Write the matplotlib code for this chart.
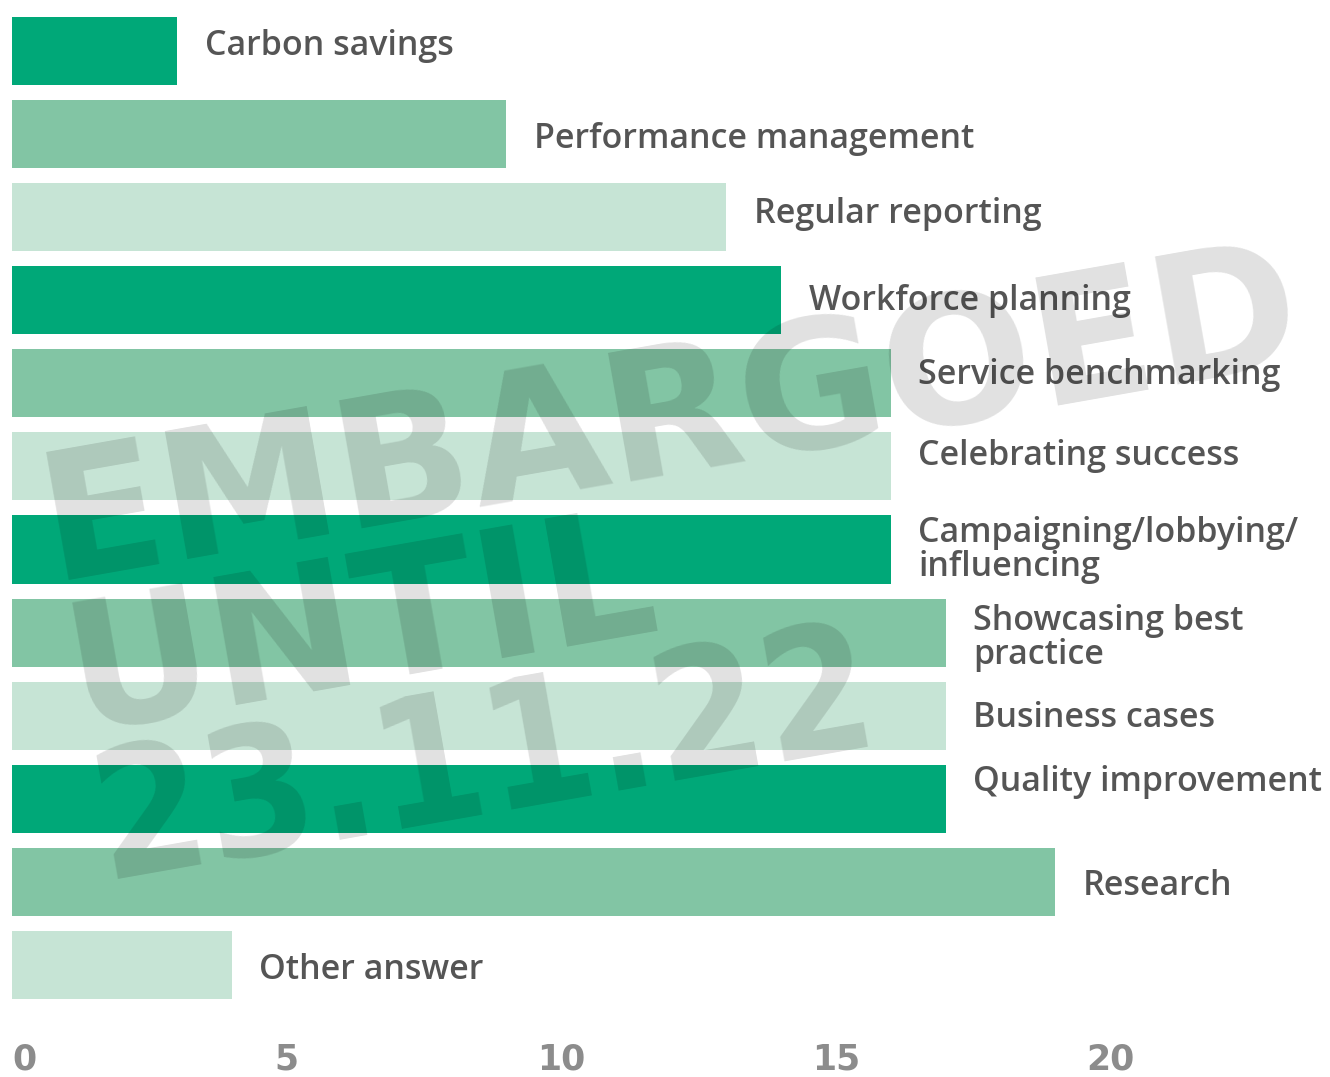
import matplotlib
matplotlib.use("Agg")
import matplotlib.pyplot as plt
import numpy as np

categories = ["Carbon savings", "Performance management", "Regular reporting",
              "Workforce planning", "Service benchmarking", "Celebrating success",
              "Campaigning/lobbying/\ninfluencing", "Showcasing best\npractice",
              "Business cases", "Quality improvement", "Research", "Other answer"]
values = [3, 9, 13, 14, 16, 16, 16, 17, 17, 17, 19, 4]
xticks = [0, 5, 10, 15, 20]
xtick_labels = ["0", "5", "10", "15", "20"]

palette = ["#00A878", "#82C5A4", "#C6E4D5"]
label_dy_px = [-5, 5, -3, 1, -8, -10, 0, 5, 2, -17, 4, 5]

W, H = 1330, 1077
fig = plt.figure(figsize=(W / 100, H / 100), dpi=100)
ax = fig.add_axes([12 / W, 0.0655, 1 - 12 / W, 0.9257])

y = np.arange(len(categories))
colors = [palette[i % 3] for i in range(len(categories))]
ax.barh(y, values, height=0.82, color=colors, zorder=2)
ax.set_ylim(len(categories) - 0.5, -0.5)
ax.set_xlim(0, 24)

for i, (cat, v) in enumerate(zip(categories, values)):
    ax.annotate(cat, xy=(v, i), xytext=(20, -label_dy_px[i] * 0.72),
                textcoords="offset points", ha="left", va="center",
                fontsize=24.5, color="#555555", fontfamily="Open Sans",
                fontweight="semibold", linespacing=1.0, zorder=3)

ax.set_xticks(xticks)
ax.set_xticklabels(xtick_labels, fontsize=25, fontweight="bold",
                   color="#8C8C8C", fontfamily="DejaVu Sans")
ax.tick_params(axis="x", length=0, pad=26)
lbls = ax.get_xticklabels()
lbls[0].set_horizontalalignment("left")
ax.set_yticks([])
for s in ax.spines.values():
    s.set_visible(False)

# watermark
ang = 10
rad = np.deg2rad(ang)
x0, y0 = 52, 580
step = 152
for k, line in enumerate(["EMBARGOED", "UNTIL", "23.11.22"]):
    px = x0 + k * step * np.sin(rad)
    py = y0 + k * step * np.cos(rad)
    kw = {}
    if k == 2:
        kw["fontstretch"] = "condensed"
    fig.text(px / W, 1 - py / H, line, rotation=ang, rotation_mode="anchor",
             ha="left", va="baseline", fontsize=128, fontweight="bold",
             fontfamily="DejaVu Sans", color="black", alpha=0.12, zorder=10, **kw)

fig.savefig("out.png", dpi=100)
